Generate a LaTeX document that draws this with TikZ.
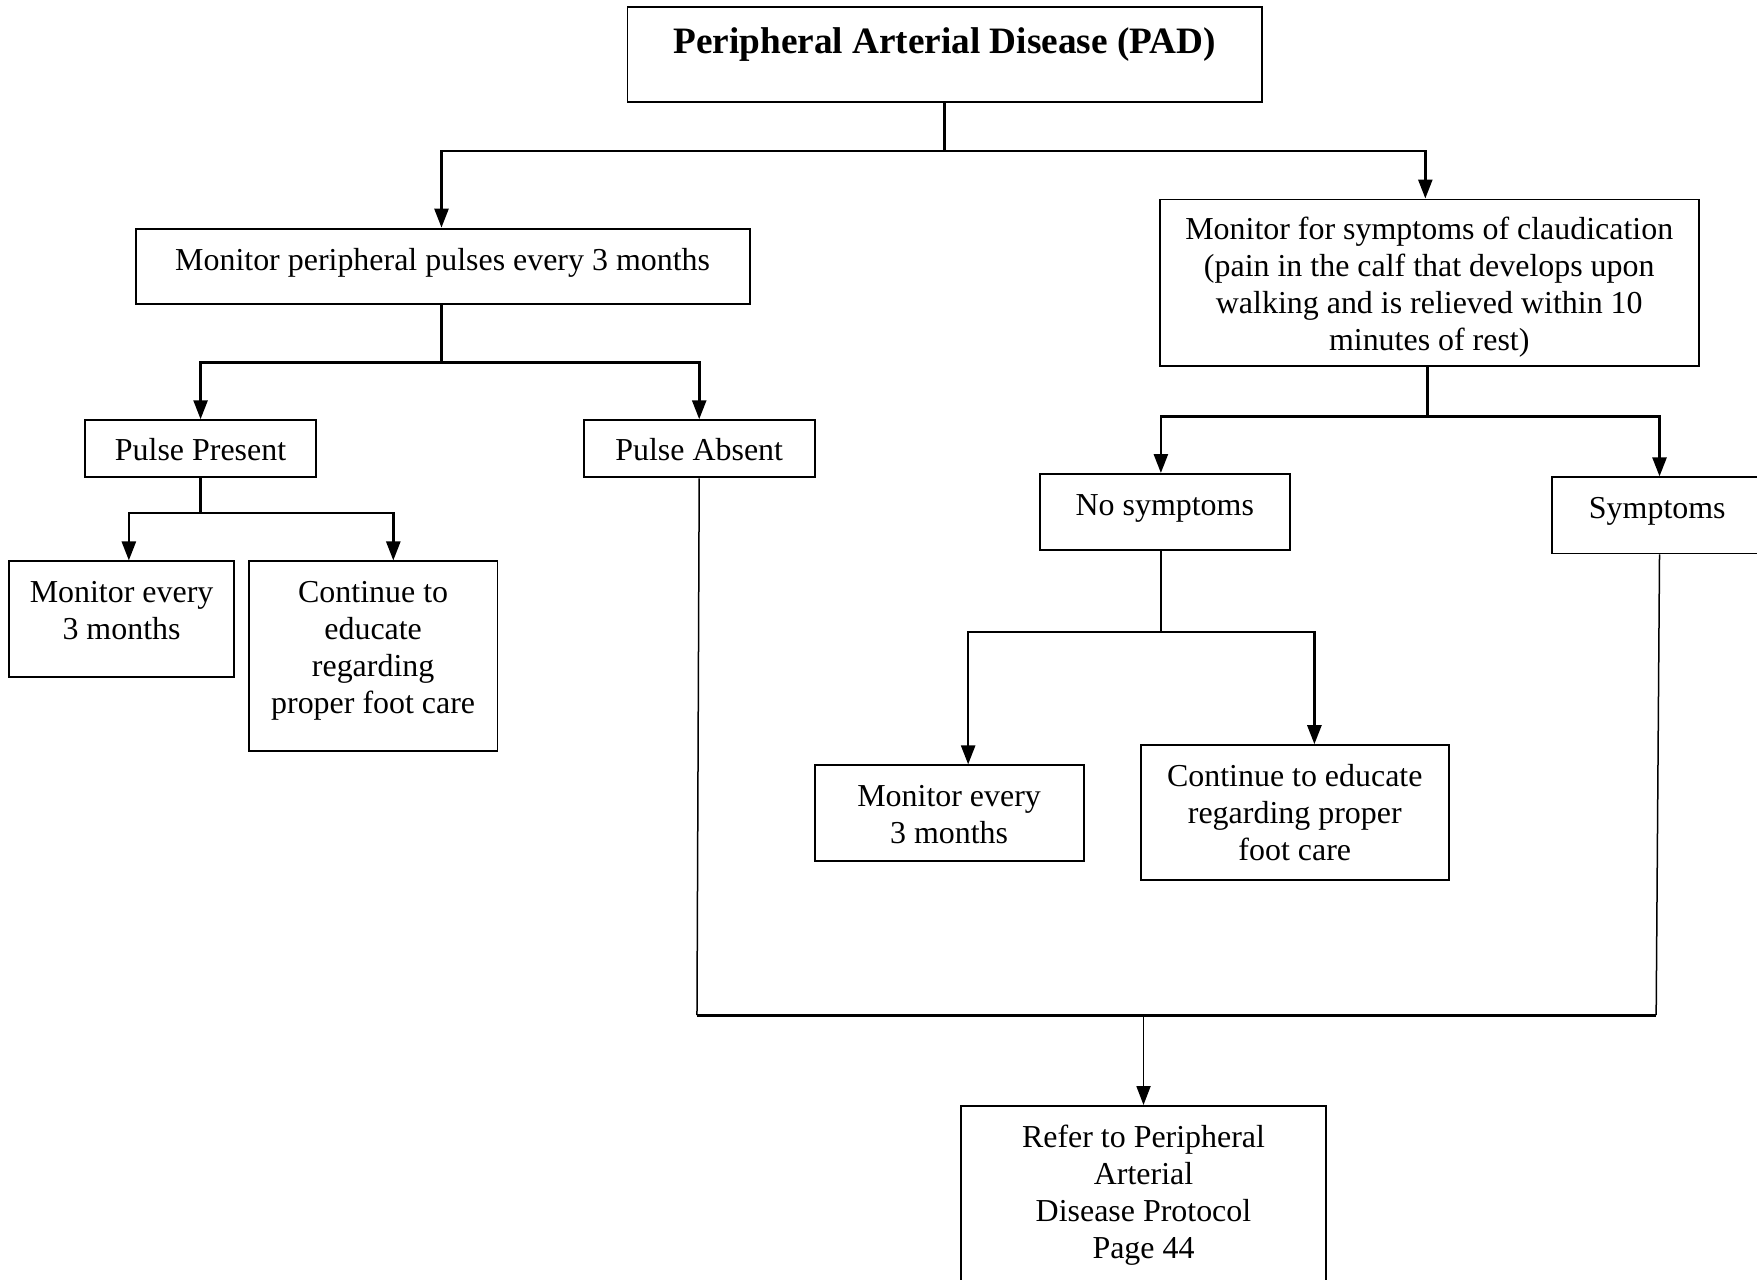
\documentclass[tikz,border=0pt]{standalone}
\usepackage{fontspec}
\setmainfont{Liberation Serif}
\usetikzlibrary{arrows.meta,calc}
% drawing unit
\newlength{\pu}\setlength{\pu}{0.56025pt}
% fixed-size text cell: width, height, first baseline from top, text
\newcommand{\bxt}[4]{\parbox[c][#2\pu][t]{#1\pu}{\centering\vspace*{\dimexpr#3\pu-0.7\baselineskip\relax}\strut#4}}

\begin{document}
\begin{tikzpicture}[x=0.56025pt,y=-0.56025pt,
  box/.style={draw,line width=0.95pt,inner sep=0pt,font=\fontsize{15.97pt}{18.49pt}\selectfont},
  head/.style={box,font=\fontsize{18.63pt}{21.5pt}\selectfont\bfseries},
  link/.style={line width=1.3pt},
  arr/.style={link,-{Triangle[length=9.5pt,width=7pt]}},
  feed/.style={line width=0.75pt}]

\fill[white] (0,0) rectangle (1568,1142);
\useasboundingbox (0,0) rectangle (1568,1142);

% boxes
\node[head] (pad) at (843,48.5) {\bxt{566}{85}{42}{Peripheral Arterial Disease (PAD)}};
\node[box] (mpp) at (395,237.5) {\bxt{548}{67}{37}{Monitor peripheral pulses every 3 months}};
\node[box] (pp) at (179,400.5) {\bxt{206}{51}{36}{Pulse Present}};
\node[box] (pa) at (624,400.5) {\bxt{206}{51}{36}{Pulse Absent}};
\node[box] (me1) at (108.5,552.5) {\bxt{201}{103}{37}{Monitor every\\3 months}};
\node[box] (ce1) at (333,585.5) {\bxt{222}{169}{37}{Continue to\\educate\\regarding\\proper foot care}};
\node[box] (mfs) at (1275.5,252.5) {\bxt{481}{149}{36}{Monitor for symptoms of claudication\\(pain in the calf that develops upon\\walking and is relieved within 10\\minutes of rest)}};
\node[box] (ns) at (1039.5,457) {\bxt{223}{68}{37}{No symptoms}};
\node[box] (sy) at (1479,460) {\bxt{188}{68}{37}{Symptoms}};
\node[box] (me2) at (847,725.5) {\bxt{240}{85}{37}{Monitor every\\3 months}};
\node[box] (ce2) at (1155.5,725) {\bxt{275}{120}{37}{Continue to educate\\regarding proper\\foot care}};
\node[box] (ref) at (1020.5,1074.5) {\bxt{325}{175}{37}{Refer to Peripheral\\Arterial\\Disease Protocol\\Page 44}};

% branching connectors
\draw[link] (pad.south) -- ++(0,43) coordinate (j1);
\draw[arr] (j1) -| ($(mpp.north)+(-1,0)$);
\draw[arr] (j1) -| ($(mfs.north)+(-3.5,0)$);

\draw[link] ($(mpp.south)+(-1,0)$) -- ++(0,51.5) coordinate (j2);
\draw[arr] (j2) -| (pp.north);
\draw[arr] (j2) -| (pa.north);

\draw[link] (pp.south) -- ++(0,31) coordinate (j3);
\draw[arr] (j3) -| ($(me1.north)+(6.5,0)$);
\draw[arr] (j3) -| ($(ce1.north)+(18,0)$);

\draw[link] ($(mfs.south)+(-1.5,0)$) -- ++(0,44) coordinate (j4);
\draw[arr] (j4) -| ($(ns.north)+(-3.5,0)$);
\draw[arr] (j4) -| ($(sy.north)+(2,0)$);

\draw[link] ($(ns.south)+(-3.5,0)$) -- ++(0,72) coordinate (j5);
\draw[arr] (j5) -| ($(me2.north)+(17,0)$);
\draw[arr] (j5) -| ($(ce2.north)+(17.5,0)$);

% lines gathering into the referral box
\coordinate (b1) at (622,906);
\coordinate (b2) at (1478,906);
\draw[feed] (pa.south) -- (b1);
\draw[feed] ($(sy.south)+(2,0)$) -- (b2);
\draw[link] (b1) -- (b2);
\draw[arr,line width=0.95pt] (ref.north |- b1) -- (ref.north);

\end{tikzpicture}
\end{document}
